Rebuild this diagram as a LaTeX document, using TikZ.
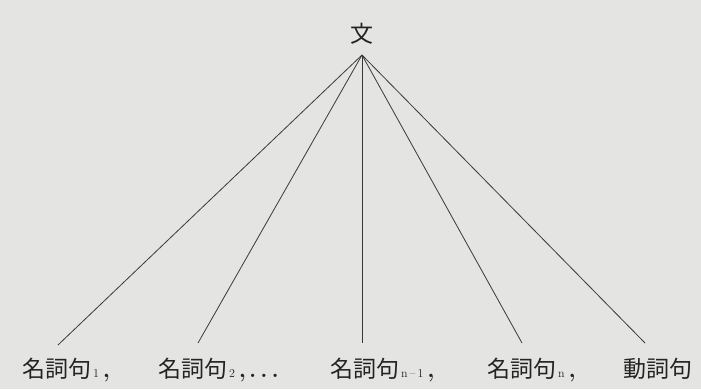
\documentclass[tikz,border=0pt]{standalone}
\usepackage{fontspec}
\newfontfamily\cjk{Noto Sans CJK JP}
\definecolor{paper}{RGB}{228,228,226}
\definecolor{ink}{RGB}{35,35,35}
\tikzset{
  word/.style={inner sep=0pt, anchor=base west, text=ink, font=\fontsize{23}{26}\selectfont},
  branch/.style={draw=ink!90, line width=0.8pt},
}
\newcommand{\sub}[1]{{\fontsize{12}{12}\selectfont\,#1}}
\newcommand{\cm}{{\bfseries\,,}}
\newcommand{\dt}{{\bfseries.}}
\begin{document}
\begin{tikzpicture}[x=1pt,y=-1pt]
\fill[paper] (0,0) rectangle (701,389);
\useasboundingbox (0,0) rectangle (701,389);
\node[inner sep=0pt, text=ink, font=\fontsize{23}{26}\selectfont\cjk] (root) at (362,34) {文};
\coordinate (top) at (362,55);
\node[word] (l1) at (22,377) {{\cjk 名詞句}\sub{1}\cm};
\node[word] (l2) at (158,377) {{\cjk 名詞句}\sub{2}\cm\hspace{3pt}\dt\hspace{4pt}\dt\hspace{4pt}\dt};
\node[word] (l3) at (330,377) {{\cjk 名詞句}\sub{n\,--\,1}\cm};
\node[word] (l4) at (487,377) {{\cjk 名詞句}\sub{n}\cm};
\node[word] (l5) at (623,377) {{\cjk 動詞句}};
\coordinate (e1) at (58,345);
\coordinate (e2) at (198,343);
\coordinate (e3) at (362,343);
\coordinate (e4) at (522,343);
\coordinate (e5) at (645,343);
\foreach \i in {1,...,5} \draw[branch] (top) -- (e\i);
\end{tikzpicture}
\end{document}
